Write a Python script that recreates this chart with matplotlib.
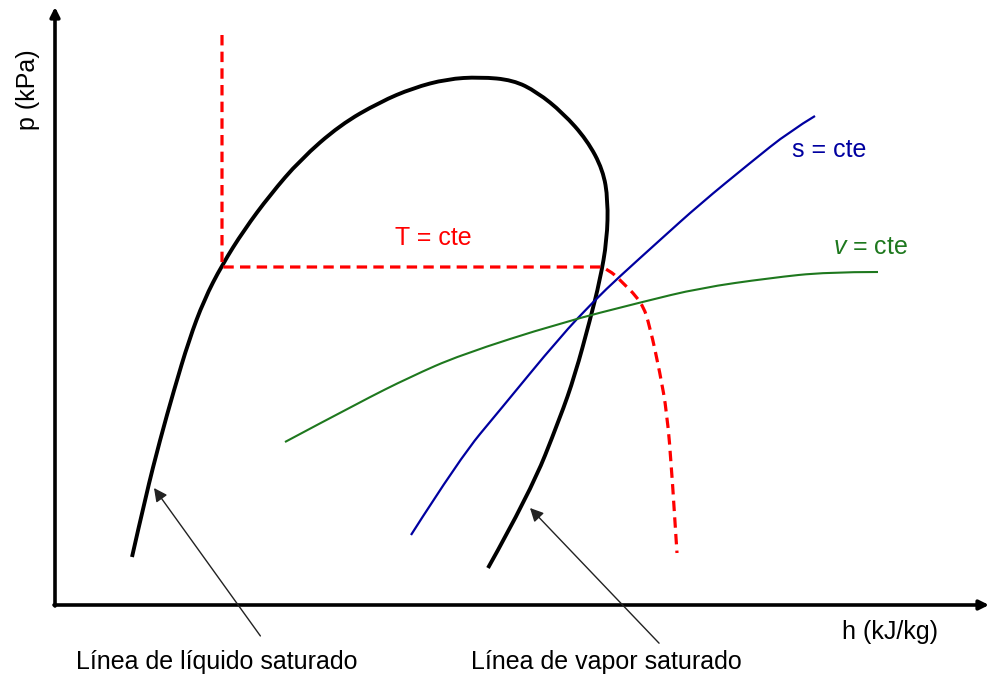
import matplotlib.pyplot as plt
from matplotlib.path import Path
from matplotlib.patches import PathPatch

plt.rcParams['font.family'] = ['Liberation Sans', 'DejaVu Sans']
plt.rcParams['mathtext.fontset'] = 'custom'
plt.rcParams['mathtext.rm'] = 'Liberation Sans'
plt.rcParams['mathtext.it'] = 'Liberation Sans:italic'
plt.rcParams['lines.scale_dashes'] = False

# campana de saturación (h, p en unidades arbitrarias)
domo_h = [77, 91, 105, 119, 134, 149, 167, 189, 215, 245, 285, 325, 358, 392, 425,
          458, 482, 508, 532, 548, 553, 552, 545, 535, 520, 505, 475, 433]
domo_p = [48, 110, 165, 215, 265, 305, 340, 375, 410, 445, 480, 503, 517, 526, 528,
          525, 513, 492, 465, 435, 405, 365, 325, 285, 230, 187, 112, 37]

# isoentrópica
s_h = [356, 405, 445, 505, 540, 563, 605, 645, 695, 735, 760]
s_p = [70, 147, 195, 268, 305, 327, 365, 401, 442, 474, 489]

# isócora
v_h = [230, 305, 355, 405, 505, 587, 645, 715, 772, 823]
v_p = [163, 203, 228, 250, 282, 303, 317, 327, 333, 333]

# isoterma
t_h = [167, 167, 547, 555, 563, 587, 595, 605, 612, 617, 622]
t_p = [570, 338, 338, 334, 327, 303, 278, 232, 192, 132, 52]


def suave(h, p, rectos=0):
    # tramo recto hasta el punto 'rectos', luego curvas cuadráticas por los puntos medios
    pts = list(zip(h, p))
    verts = [pts[0]]
    codes = [Path.MOVETO]
    for q in pts[1:rectos + 1]:
        verts.append(q)
        codes.append(Path.LINETO)
    resto = pts[rectos:]
    for i in range(1, len(resto) - 1):
        a, b = resto[i], resto[i + 1]
        medio = b if i == len(resto) - 2 else ((a[0] + b[0]) / 2, (a[1] + b[1]) / 2)
        verts += [a, medio]
        codes += [Path.CURVE3, Path.CURVE3]
    if len(resto) == 2:
        verts.append(resto[1])
        codes.append(Path.LINETO)
    return Path(verts, codes)


fig = plt.figure(figsize=(9.89, 6.77), dpi=100)
ax = fig.add_axes([0, 0, 1, 1])
ax.set_xlim(-55, 934)
ax.set_ylim(-72, 605)
ax.axis('off')

# ejes con flecha
ax.annotate('', xy=(934, 0), xytext=(-1, 0),
            arrowprops=dict(arrowstyle='-|>', color='black', lw=2.6,
                            mutation_scale=14, shrinkA=0, shrinkB=0))
ax.annotate('', xy=(0, 598), xytext=(0, -1),
            arrowprops=dict(arrowstyle='-|>', color='black', lw=2.6,
                            mutation_scale=14, shrinkA=0, shrinkB=0))

ax.add_patch(PathPatch(suave(domo_h, domo_p), fill=False, ec='black', lw=2.8,
                       capstyle='butt'))
ax.add_patch(PathPatch(suave(s_h, s_p), fill=False, ec='#0000a0', lw=1.6))
ax.add_patch(PathPatch(suave(v_h, v_p), fill=False, ec='#1e781e', lw=1.5))
ax.add_patch(PathPatch(suave(t_h, t_p, rectos=2), fill=False, ec='#ff0000', lw=2.3,
                       linestyle=(0, (7.5, 4.5))))

ax.text(378, 367, 'T = cte', color='#ff0000', fontsize=18, ha='center', va='center')
ax.text(737, 455, 's = cte', color='#0000a0', fontsize=18, ha='left', va='center')
ax.text(778, 358, r'$\mathit{v}$ = cte', color='#1e781e', fontsize=18,
        ha='left', va='center')

ax.text(835, -27, 'h (kJ/kg)', fontsize=18, ha='center', va='center')
ax.text(-27, 515, 'p (kPa)', fontsize=18, ha='center', va='center', rotation=90)

ax.annotate('Línea de líquido saturado', xy=(99, 117), xytext=(162, -57),
            fontsize=18, ha='center', va='center',
            arrowprops=dict(arrowstyle='-|>', color='#222222', lw=1,
                            mutation_scale=20, shrinkA=10, shrinkB=0,
                            relpos=(0.69, 1.0)))
ax.annotate('Línea de vapor saturado', xy=(475, 97), xytext=(551, -57),
            fontsize=18, ha='center', va='center',
            arrowprops=dict(arrowstyle='-|>', color='#222222', lw=1,
                            mutation_scale=20, shrinkA=4, shrinkB=0,
                            relpos=(0.72, 1.0)))

fig.savefig('out.png', dpi=100, facecolor='white')
